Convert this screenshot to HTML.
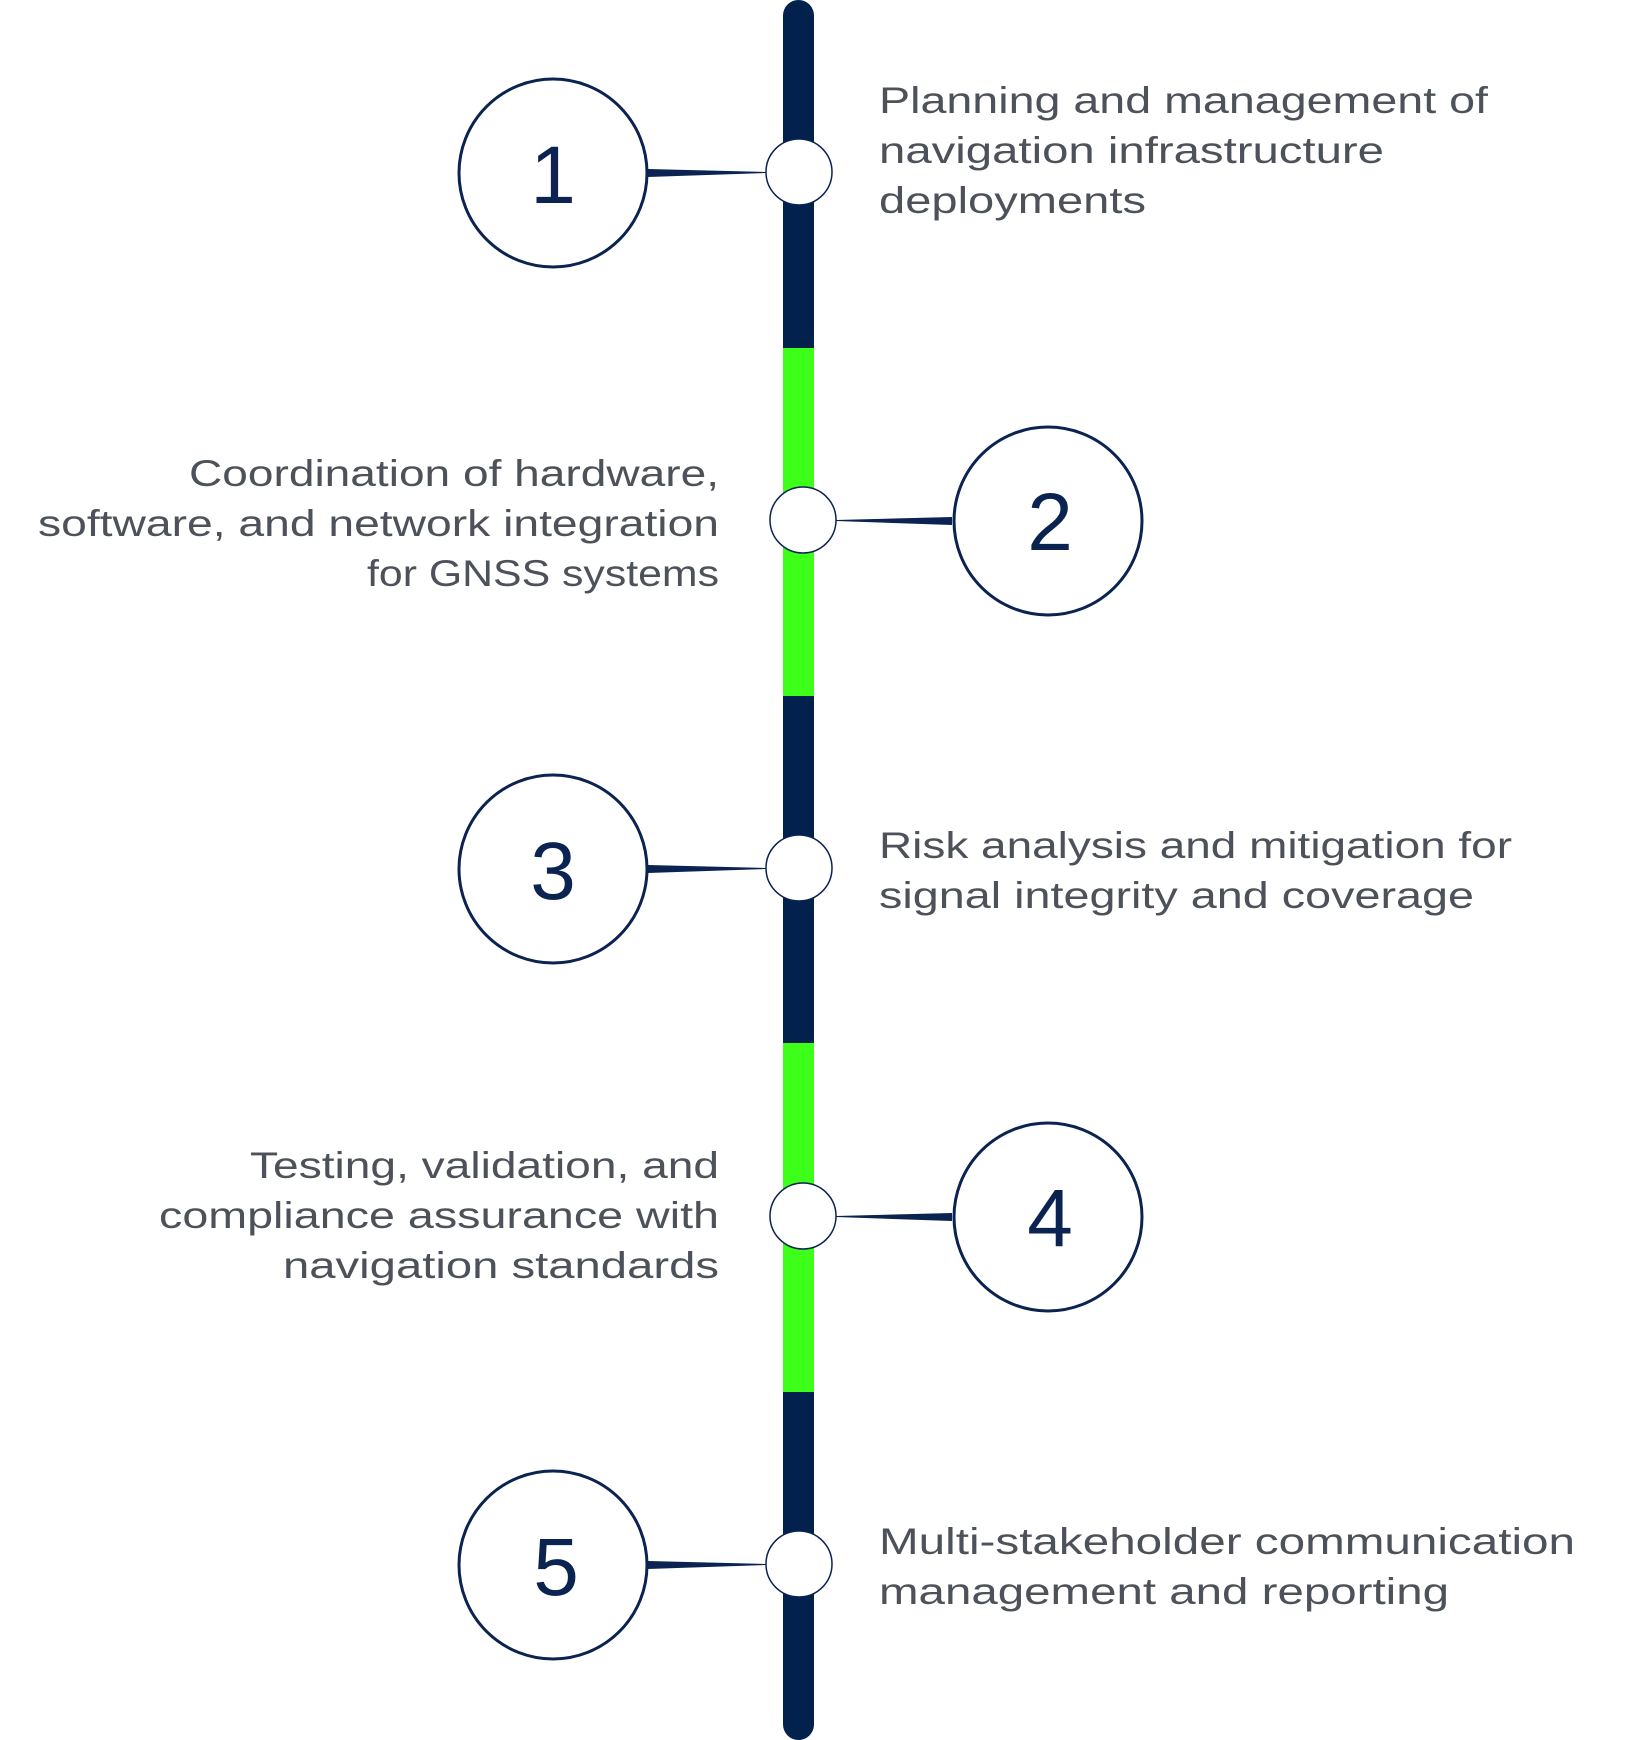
<!DOCTYPE html>
<html><head><meta charset="utf-8"><style>
html,body{margin:0;padding:0;background:#fff;}
svg{display:block;}
.t{font-family:"Liberation Sans",sans-serif;font-size:37px;fill:#4d5159;}
.n{font-family:"Liberation Sans",sans-serif;font-size:82px;fill:#0a2350;}
</style></head><body>
<svg width="1630" height="1740" viewBox="0 0 1630 1740" xmlns="http://www.w3.org/2000/svg">
<rect x="783" y="0" width="31" height="348" rx="15.5" fill="#02214d"/>
<rect x="783" y="20" width="31" height="328" fill="#02214d"/>
<rect x="783" y="348" width="31" height="348" fill="#3dff1a"/>
<rect x="783" y="696" width="31" height="347" fill="#02214d"/>
<rect x="783" y="1043" width="31" height="349" fill="#3dff1a"/>
<rect x="783" y="1392" width="31" height="330" fill="#02214d"/>
<rect x="783" y="1600" width="31" height="140" rx="15.5" fill="#02214d"/>

<polygon points="648,169 648,177 766,173 766,172" fill="#0a2350"/>
<polygon points="952,517 952,525 836,521 836,520" fill="#0a2350"/>
<polygon points="648,865 648,873 766,869 766,868" fill="#0a2350"/>
<polygon points="952,1213 952,1221 836,1217 836,1216" fill="#0a2350"/>
<polygon points="648,1561 648,1569 766,1565 766,1564" fill="#0a2350"/>

<g fill="#fff" stroke="#0a2350" stroke-width="3">
<circle cx="553" cy="173" r="94"/>
<circle cx="1048" cy="521" r="94"/>
<circle cx="553" cy="869" r="94"/>
<circle cx="1048" cy="1217" r="94"/>
<circle cx="553" cy="1565" r="94"/>
</g>
<g fill="#fff" stroke="#0a2350" stroke-width="1.5">
<circle cx="799" cy="172" r="33"/>
<circle cx="803" cy="520" r="33"/>
<circle cx="799" cy="868" r="33"/>
<circle cx="803" cy="1216" r="33"/>
<circle cx="799" cy="1564" r="33"/>
</g>

<text class="n" x="553" y="203" text-anchor="middle">1</text>
<text class="n" x="1050" y="550" text-anchor="middle">2</text>
<text class="n" x="553" y="899" text-anchor="middle">3</text>
<text class="n" x="1050" y="1246" text-anchor="middle">4</text>
<text class="n" x="556" y="1595" text-anchor="middle">5</text>

<text class="t" x="879" y="113" textLength="609" lengthAdjust="spacingAndGlyphs">Planning and management of</text>
<text class="t" x="879" y="163" textLength="505" lengthAdjust="spacingAndGlyphs">navigation infrastructure</text>
<text class="t" x="879" y="213" textLength="267" lengthAdjust="spacingAndGlyphs">deployments</text>

<text class="t" x="879" y="858" textLength="633" lengthAdjust="spacingAndGlyphs">Risk analysis and mitigation for</text>
<text class="t" x="879" y="908" textLength="595" lengthAdjust="spacingAndGlyphs">signal integrity and coverage</text>

<text class="t" x="879" y="1554" textLength="696" lengthAdjust="spacingAndGlyphs">Multi-stakeholder communication</text>
<text class="t" x="879" y="1604" textLength="570" lengthAdjust="spacingAndGlyphs">management and reporting</text>

<text class="t" x="189" y="486" textLength="530" lengthAdjust="spacingAndGlyphs">Coordination of hardware,</text>
<text class="t" x="38" y="536" textLength="681" lengthAdjust="spacingAndGlyphs">software, and network integration</text>
<text class="t" x="367" y="586" textLength="352" lengthAdjust="spacingAndGlyphs">for GNSS systems</text>

<text class="t" x="250" y="1178" textLength="469" lengthAdjust="spacingAndGlyphs">Testing, validation, and</text>
<text class="t" x="159" y="1228" textLength="560" lengthAdjust="spacingAndGlyphs">compliance assurance with</text>
<text class="t" x="283" y="1278" textLength="436" lengthAdjust="spacingAndGlyphs">navigation standards</text>
</svg>
</body></html>
